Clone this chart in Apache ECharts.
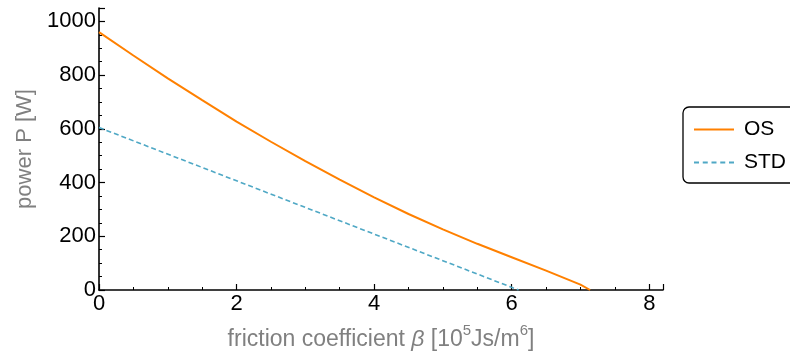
<!DOCTYPE html>
<html><head><meta charset="utf-8">
<script src="https://cdn.jsdelivr.net/npm/echarts@6/dist/echarts.min.js"></script>
<style>html,body{margin:0;padding:0;background:#fff}#c{width:790px;height:354px}</style>
</head><body><div id="c"></div>
<script>
var osBeta = [0, 0.5, 1, 1.5, 2, 2.5, 3, 3.5, 4, 4.5, 5, 5.5, 6, 6.5, 7, 7.14];
var osPower = [960, 873, 788, 707, 627, 552, 480, 411, 345, 283, 226, 172, 122, 72, 20, 0];
var stdBeta = [0, 6.10];
var stdPower = [605, 0];
var xTicks = [0, 2, 4, 6, 8];
var yTicks = [0, 200, 400, 600, 800, 1000];

function pairs(xs, ys){ return xs.map(function(x,i){return [x, ys[i]];}); }
var FONT = '"Liberation Sans", Arial, Helvetica, sans-serif';
var OS_COLOR = '#ff8000', STD_COLOR = '#4fa8c5';
var chart = echarts.init(document.getElementById('c'), null, {renderer:'canvas'});
chart.setOption({
  animation:false,
  backgroundColor:'#fff',
  textStyle:{fontFamily:FONT},
  grid:{left:99, right:127, top:8, bottom:64, containLabel:false, outerBoundsMode:'none'},
  legend:{
    left:683, top:107, orient:'vertical', itemWidth:40, itemHeight:2, itemGap:12,
    borderColor:'#000', borderWidth:1.3, borderRadius:6, padding:[12,30,10,11],
    textStyle:{fontSize:21, color:'#000', fontFamily:FONT, padding:[0,0,0,5]},
    data:[
      {name:'OS', icon:'rect', itemStyle:{color:OS_COLOR}},
      {name:'STD', icon:'path://M0,0h5v2h-5z M8.75,0h5v2h-5z M17.5,0h5v2h-5z M26.25,0h5v2h-5z M35,0h5v2h-5z', itemStyle:{color:STD_COLOR}}
    ]
  },
  xAxis:{
    type:'value', min:0, max:8.2, interval:2,
    axisLine:{show:true, onZero:false, lineStyle:{color:'#000', width:1.6}},
    axisTick:{show:true, inside:true, length:6, lineStyle:{color:'#000', width:1.2}},
    minorTick:{show:true, splitNumber:4, length:3, lineStyle:{color:'#000', width:1}},
    splitLine:{show:false},
    axisLabel:{fontSize:22, color:'#000', margin:3, showMaxLabel:false,
      formatter:function(v){ return xTicks.indexOf(v)>=0 ? String(v) : ''; }},
    name:'{t|friction coefficient }{i|β}{t| [10}{sup|5}{t|Js/m}{sup|6}{t|]}',
    nameLocation:'middle', nameGap:33,
    nameTextStyle:{fontSize:23, color:'#808080', rich:{
      t:{fontSize:23, color:'#808080', verticalAlign:'bottom', lineHeight:23},
      i:{fontStyle:'italic', fontSize:23, color:'#808080', verticalAlign:'bottom', lineHeight:23},
      sup:{fontSize:15, color:'#808080', verticalAlign:'top', lineHeight:28}
    }}
  },
  yAxis:{
    type:'value', min:0, max:1050, interval:200,
    axisLine:{show:true, onZero:false, lineStyle:{color:'#000', width:1.6}},
    axisTick:{show:true, inside:true, length:6, lineStyle:{color:'#000', width:1.2}},
    minorTick:{show:true, splitNumber:4, length:3, lineStyle:{color:'#000', width:1}},
    splitLine:{show:false},
    axisLabel:{fontSize:22, color:'#000', margin:3, showMaxLabel:false,
      formatter:function(v){ return yTicks.indexOf(v)>=0 ? String(v) : ''; }},
    name:'power P [W]', nameLocation:'middle', nameGap:60,
    nameTextStyle:{fontSize:22, color:'#808080'}
  },
  series:[
    {name:'OS', type:'line', data:pairs(osBeta, osPower), smooth:false, symbol:'none',
      lineStyle:{color:OS_COLOR, width:2}, itemStyle:{color:OS_COLOR}},
    {name:'STD', type:'line', data:pairs(stdBeta, stdPower), symbol:'none',
      lineStyle:{color:STD_COLOR, width:1.6, type:[5,3]}, itemStyle:{color:STD_COLOR}}
  ]
});
</script></body></html>
